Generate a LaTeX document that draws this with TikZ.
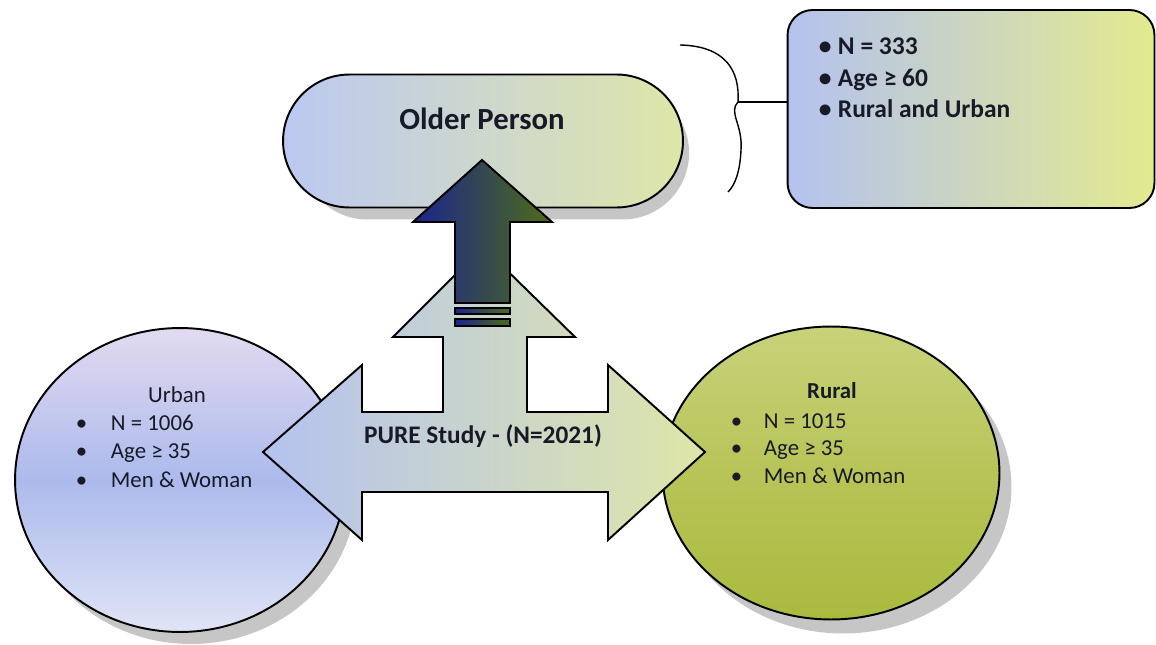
\documentclass[tikz,border=0pt]{standalone}
\usepackage{fontspec}
\setmainfont{Carlito}
\usetikzlibrary{shapes.geometric,shapes.misc}

\definecolor{urbtop}{RGB}{226,218,240}
\definecolor{urbmid}{RGB}{172,186,236}
\definecolor{urbbot}{RGB}{224,228,246}
\definecolor{rurtop}{RGB}{200,210,122}
\definecolor{rurmid}{RGB}{184,196,88}
\definecolor{rurbot}{RGB}{170,186,62}
\definecolor{softblue}{RGB}{180,194,240}
\definecolor{softolive}{RGB}{222,230,168}
\definecolor{deepblue}{RGB}{26,36,140}
\definecolor{deepteal}{RGB}{28,86,104}
\definecolor{deepolive}{RGB}{78,108,22}
\definecolor{inktext}{RGB}{24,26,40}

\begin{document}
\begin{tikzpicture}[x=0.02cm,y=-0.02cm,line width=1.1pt,
  shadowfill/.style={fill=gray!45,draw=none},
  circ/.style={ellipse,draw,inner sep=0pt},
  item/.style={anchor=base west,inner sep=0pt,text=inktext,
    font=\fontsize{13}{16}\selectfont},
  infoitem/.style={anchor=base west,inner sep=0pt,text=inktext,
    font=\fontsize{14.5}{17}\selectfont\bfseries},
  title/.style={anchor=base,inner sep=0pt,text=inktext,
    font=\fontsize{13}{16}\selectfont\bfseries}]

  \useasboundingbox (0,0) rectangle (1156,645);

  % older person pill and the info box
  \node[rounded rectangle,shadowfill,minimum width=8cm,minimum height=2.66cm]
    at (495,153) {};
  \node[rounded rectangle,draw,left color=softblue!90,right color=softolive,
    minimum width=8cm,minimum height=2.66cm,inner sep=0pt] (older) at (483,141) {};
  \node[draw,rounded corners=0.5cm,left color=softblue,right color=softolive!85!yellow,
    minimum width=7.34cm,minimum height=3.96cm,inner sep=0pt] (infobox) at (971,109) {};
  \node[infoitem] (i1) at (818,55) {\makebox[0.38cm][l]{\textbullet}N = 333};
  \node[infoitem] (i2) at (818,87) {\makebox[0.38cm][l]{\textbullet}Age ≥ 60};
  \node[infoitem] (i3) at (818,118) {\makebox[0.38cm][l]{\textbullet}Rural and Urban};

  % brace towards the box
  \coordinate (bracetip) at (738,102);
  \draw[line width=0.8pt] (680,45) .. controls (725,46) and (740,70) .. (bracetip)
    .. controls (728,112) and (743,125) .. (741,150)
    .. controls (740,172) and (735,185) .. (728,192);
  \draw[line width=0.8pt] (bracetip) -- (bracetip -| infobox.west);

  % urban and rural circles
  \node[circ,shadowfill,minimum width=6.6cm,minimum height=6.08cm] at (191,492) {};
  \node[circ,top color=urbtop,bottom color=urbbot,middle color=urbmid,
    minimum width=6.6cm,minimum height=6.08cm] (urban) at (180,480) {};
  \node[circ,shadowfill,minimum width=6.74cm,minimum height=5.86cm] at (843,487) {};
  \node[circ,top color=rurtop,bottom color=rurbot,middle color=rurmid,
    minimum width=6.74cm,minimum height=5.86cm] (rural) at (831,473) {};

  % the PURE study arrow
  \draw[left color=softblue,right color=softolive] (263,452) -- (362,365) -- (362,412)
    -- (443,412) -- (443,337) -- (393,337) -- (483,247) -- (575,337) -- (527,337)
    -- (527,412) -- (608,412) -- (608,365) -- (705,452) -- (608,540) -- (608,492)
    -- (362,492) -- (362,540) -- cycle;

  % dark arrow up to the older person
  \draw[left color=deepblue,middle color=deepteal,right color=deepolive]
    (482,160) -- (552,222) -- (510,222) -- (510,303) -- (455,303) -- (455,222)
    -- (413,222) -- cycle;
  \draw[left color=deepblue,middle color=deepteal,right color=deepolive]
    (455,308) rectangle (510,314);
  \draw[left color=deepblue,middle color=deepteal,right color=deepolive]
    (455,319) rectangle (510,326);

  % texts
  \node[title,font=\fontsize{17.5}{20}\selectfont\bfseries] (oldtxt) at (482,130) {Older Person};
  \node[title,font=\fontsize{14.4}{17}\selectfont\bfseries] (puretxt) at (483,443) {PURE Study - (N=2021)};

  \node[title,font=\fontsize{13}{16}\selectfont] (urbtxt) at (177,402) {Urban};
  \node[item] (u1) at (75,430) {\makebox[0.7cm][l]{\textbullet}N = 1006};
  \node[item] (u2) at (75,458) {\makebox[0.7cm][l]{\textbullet}Age ≥ 35};
  \node[item] (u3) at (75,487) {\makebox[0.7cm][l]{\textbullet}Men \& Woman};

  \node[title] (rurtxt) at (832,398) {Rural};
  \node[item] (r1) at (730,428) {\makebox[0.66cm][l]{\textbullet}N = 1015};
  \node[item] (r2) at (730,455) {\makebox[0.66cm][l]{\textbullet}Age ≥ 35};
  \node[item] (r3) at (730,483) {\makebox[0.66cm][l]{\textbullet}Men \& Woman};
\end{tikzpicture}
\end{document}
